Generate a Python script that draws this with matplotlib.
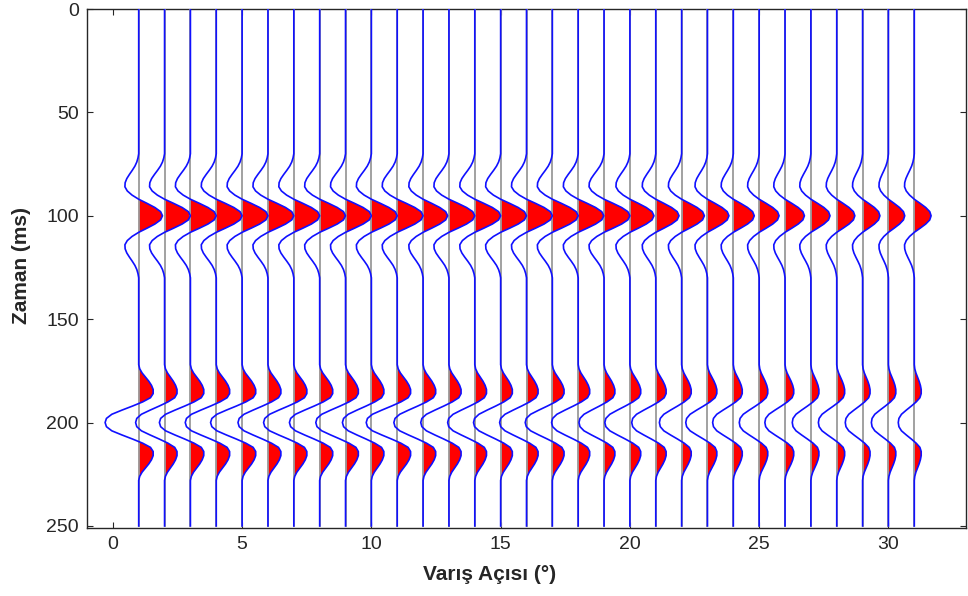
import numpy as np
import matplotlib
matplotlib.use("Agg")
import matplotlib.pyplot as plt

# ---- data ----
angles = list(range(1, 32))                      # trace positions (deg)
time_ms = np.arange(0, 251, 2)                   # 2 ms samples, 0..250 ms

event_a_time = 100                                # ms, positive reflection
event_b_time = 200                                # ms, negative reflection
wavelet_offsets = list(range(-30, 31, 2))         # ms around event centre

# normalised wavelet shapes
wavelet_a = [0.0, -0.03, -0.08, -0.16, -0.27, -0.39, -0.50, -0.57, -0.58, -0.48,
             -0.28, 0.0, 0.35, 0.68, 0.92, 1.0, 0.92, 0.68, 0.35, 0.0,
             -0.28, -0.48, -0.58, -0.57, -0.50, -0.39, -0.27, -0.16, -0.08, -0.03, 0.0]
wavelet_b = [0.0, 0.0, 0.03, 0.10, 0.20, 0.30, 0.38, 0.43, 0.43, 0.35,
             0.12, -0.18, -0.50, -0.80, -0.96, -1.0, -0.96, -0.80, -0.50, -0.18,
             0.12, 0.35, 0.43, 0.43, 0.38, 0.30, 0.20, 0.10, 0.03, 0.0, 0.0]

# per-trace amplitudes (peak at 100 ms, trough magnitude at 200 ms)
amp_a = [0.92, 1.0, 1.0, 1.0, 1.0, 1.0, 1.0, 1.0, 1.0, 1.0,
         1.0, 0.95, 1.0, 1.0, 1.0, 1.0, 1.0, 0.99, 1.0, 0.93,
         0.90, 0.88, 0.83, 0.81, 0.77, 0.75, 0.74, 0.70, 0.67, 0.63, 0.65]
amp_b = [1.30, 1.12, 1.20, 1.20, 1.22, 1.16, 1.17, 1.17, 1.15, 1.12,
         1.20, 1.13, 1.09, 1.05, 1.05, 1.04, 1.05, 1.03, 0.97, 0.97,
         0.93, 0.86, 0.84, 0.80, 0.77, 0.78, 0.72, 0.71, 0.67, 0.66, 0.62]

x_ticks = [0, 5, 10, 15, 20, 25, 30]
y_ticks = [0, 50, 100, 150, 200, 250]
x_label = "Varış Açısı (°)"
y_label = "Zaman (ms)"

# ---- figure ----
plt.rcParams['font.family'] = ['Liberation Sans', 'DejaVu Sans']
fig = plt.figure(figsize=(9.68, 5.96), dpi=100)
ax = fig.add_axes([87/968, 1-528/596, (966-87)/968, (528-9)/596])

t = np.asarray(time_ms, dtype=float)
offs = np.asarray(wavelet_offsets)
wa = np.asarray(wavelet_a)
wb = np.asarray(wavelet_b)
ia = np.searchsorted(t, event_a_time + offs)
ib = np.searchsorted(t, event_b_time + offs)

traces = []
for k, x0 in enumerate(angles):
    tr = np.zeros_like(t)
    tr[ia] += amp_a[k] * wa
    tr[ib] += amp_b[k] * wb
    traces.append(tr)

for x0, tr in zip(angles, traces):
    ax.fill_betweenx(t, x0, x0 + tr, where=tr > 0, interpolate=True,
                     color='#ff0000', lw=0, zorder=2)
for x0 in angles:
    ax.plot([x0, x0], [t[0], t[-1]], color='#9a9a9a', lw=1.3, zorder=3)
for x0, tr in zip(angles, traces):
    ax.plot(x0 + tr, t, color='#1010ff', lw=1.2, zorder=4)

ax.set_xlim(-1, 33)
ax.set_ylim(251, 0)
ax.set_xticks(x_ticks)
ax.set_yticks(y_ticks)
dark = '#262626'
ax.tick_params(direction='in', length=4, width=0.8, top=True, right=True,
               labelsize=14, colors=dark, pad=6)
for s in ax.spines.values():
    s.set_color(dark)
    s.set_linewidth(1.0)

ax.set_xlabel(x_label, fontsize=15, fontweight='bold', color=dark)
ax.set_ylabel(y_label, fontsize=15, fontweight='bold', color=dark)
ax.xaxis.set_label_coords(0.458, -0.072)
ax.yaxis.set_label_coords(-0.064, 0.505)

fig.savefig("out.png", dpi=100)
